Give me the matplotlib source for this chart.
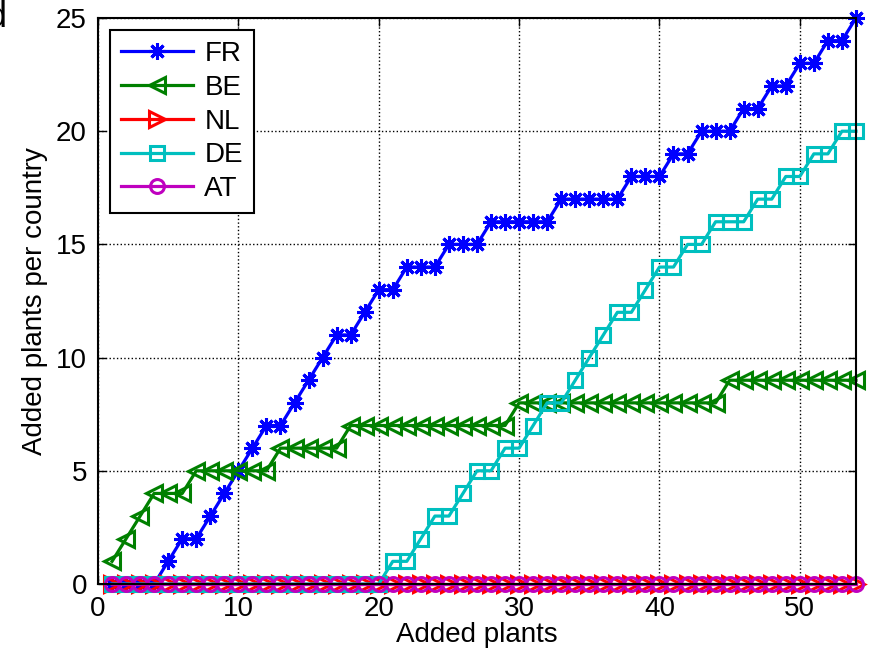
import matplotlib
matplotlib.use("Agg")
import matplotlib.pyplot as plt

plt.rcParams['font.family'] = ['Liberation Sans', 'DejaVu Sans']

added = list(range(1, 55))

FR = [0, 0, 0, 0, 1, 2, 2, 3, 4, 5, 6, 7, 7, 8, 9, 10, 11, 11, 12, 13,
      13, 14, 14, 14, 15, 15, 15, 16, 16, 16, 16, 16, 17, 17, 17, 17, 17, 18, 18, 18,
      19, 19, 20, 20, 20, 21, 21, 22, 22, 23, 23, 24, 24, 25]
BE = [1, 2, 3, 4, 4, 4, 5, 5, 5, 5, 5, 5, 6, 6, 6, 6, 6, 7, 7, 7,
      7, 7, 7, 7, 7, 7, 7, 7, 7, 8, 8, 8, 8, 8, 8, 8, 8, 8, 8, 8,
      8, 8, 8, 8, 9, 9, 9, 9, 9, 9, 9, 9, 9, 9]
NL = [0] * 54
DE = [0] * 20 + [1, 1, 2, 3, 3, 4, 5, 5, 6, 6, 7, 8, 8, 9, 10, 11, 12, 12, 13, 14,
                 14, 15, 15, 16, 16, 16, 17, 17, 18, 18, 19, 19, 20, 20]
AT = [0] * 54

countries = ['FR', 'BE', 'NL', 'DE', 'AT']
series = [FR, BE, NL, DE, AT]
colors = ['#0000ff', '#008000', '#ff0000', '#00bfbf', '#bf00bf']
markers = [(8, 2, 0), '<', '>', 's', 'o']
msizes = [12, 11, 11, 10, 10]

fig = plt.figure(figsize=(8.69, 6.53), dpi=100)
ax = fig.add_axes([0.1128, 0.1057, 0.8722, 0.8667])

for name, y, c, m, ms in zip(countries, series, colors, markers, msizes):
    ax.plot(added, y, color=c, marker=m, markersize=ms, linewidth=2.3,
            markeredgewidth=2.2, markerfacecolor='none', markeredgecolor=c,
            label=name, clip_on=False)

ax.set_xlim(0, 54)
ax.set_ylim(0, 25)
ax.set_xticks([0, 10, 20, 30, 40, 50])
ax.set_yticks([0, 5, 10, 15, 20, 25])
ax.grid(True, color='black', linestyle=':', linewidth=1)
ax.tick_params(direction='in', top=True, right=True, labelsize=20, length=6, width=1)
ax.tick_params(axis='x', pad=9)
ax.tick_params(axis='y', pad=8)
for s in ax.spines.values():
    s.set_linewidth(1.5)

ax.set_xlabel('Added plants', fontsize=20, labelpad=0)
ax.set_ylabel('Added plants per country', fontsize=20, labelpad=6)

leg = ax.legend(loc='upper left', fontsize=20, numpoints=1, handlelength=2.6,
                fancybox=False, framealpha=1, edgecolor='black',
                borderaxespad=0.43, labelspacing=0.28, handletextpad=0.4,
                borderpad=0.4)
leg.get_frame().set_linewidth(1.5)

# panel letter, partly off the left edge as in the source figure
fig.text(7 / 869, 1 - 27 / 653, 'd', fontsize=26, ha='right', va='baseline')

fig.savefig('out.png', dpi=100)
